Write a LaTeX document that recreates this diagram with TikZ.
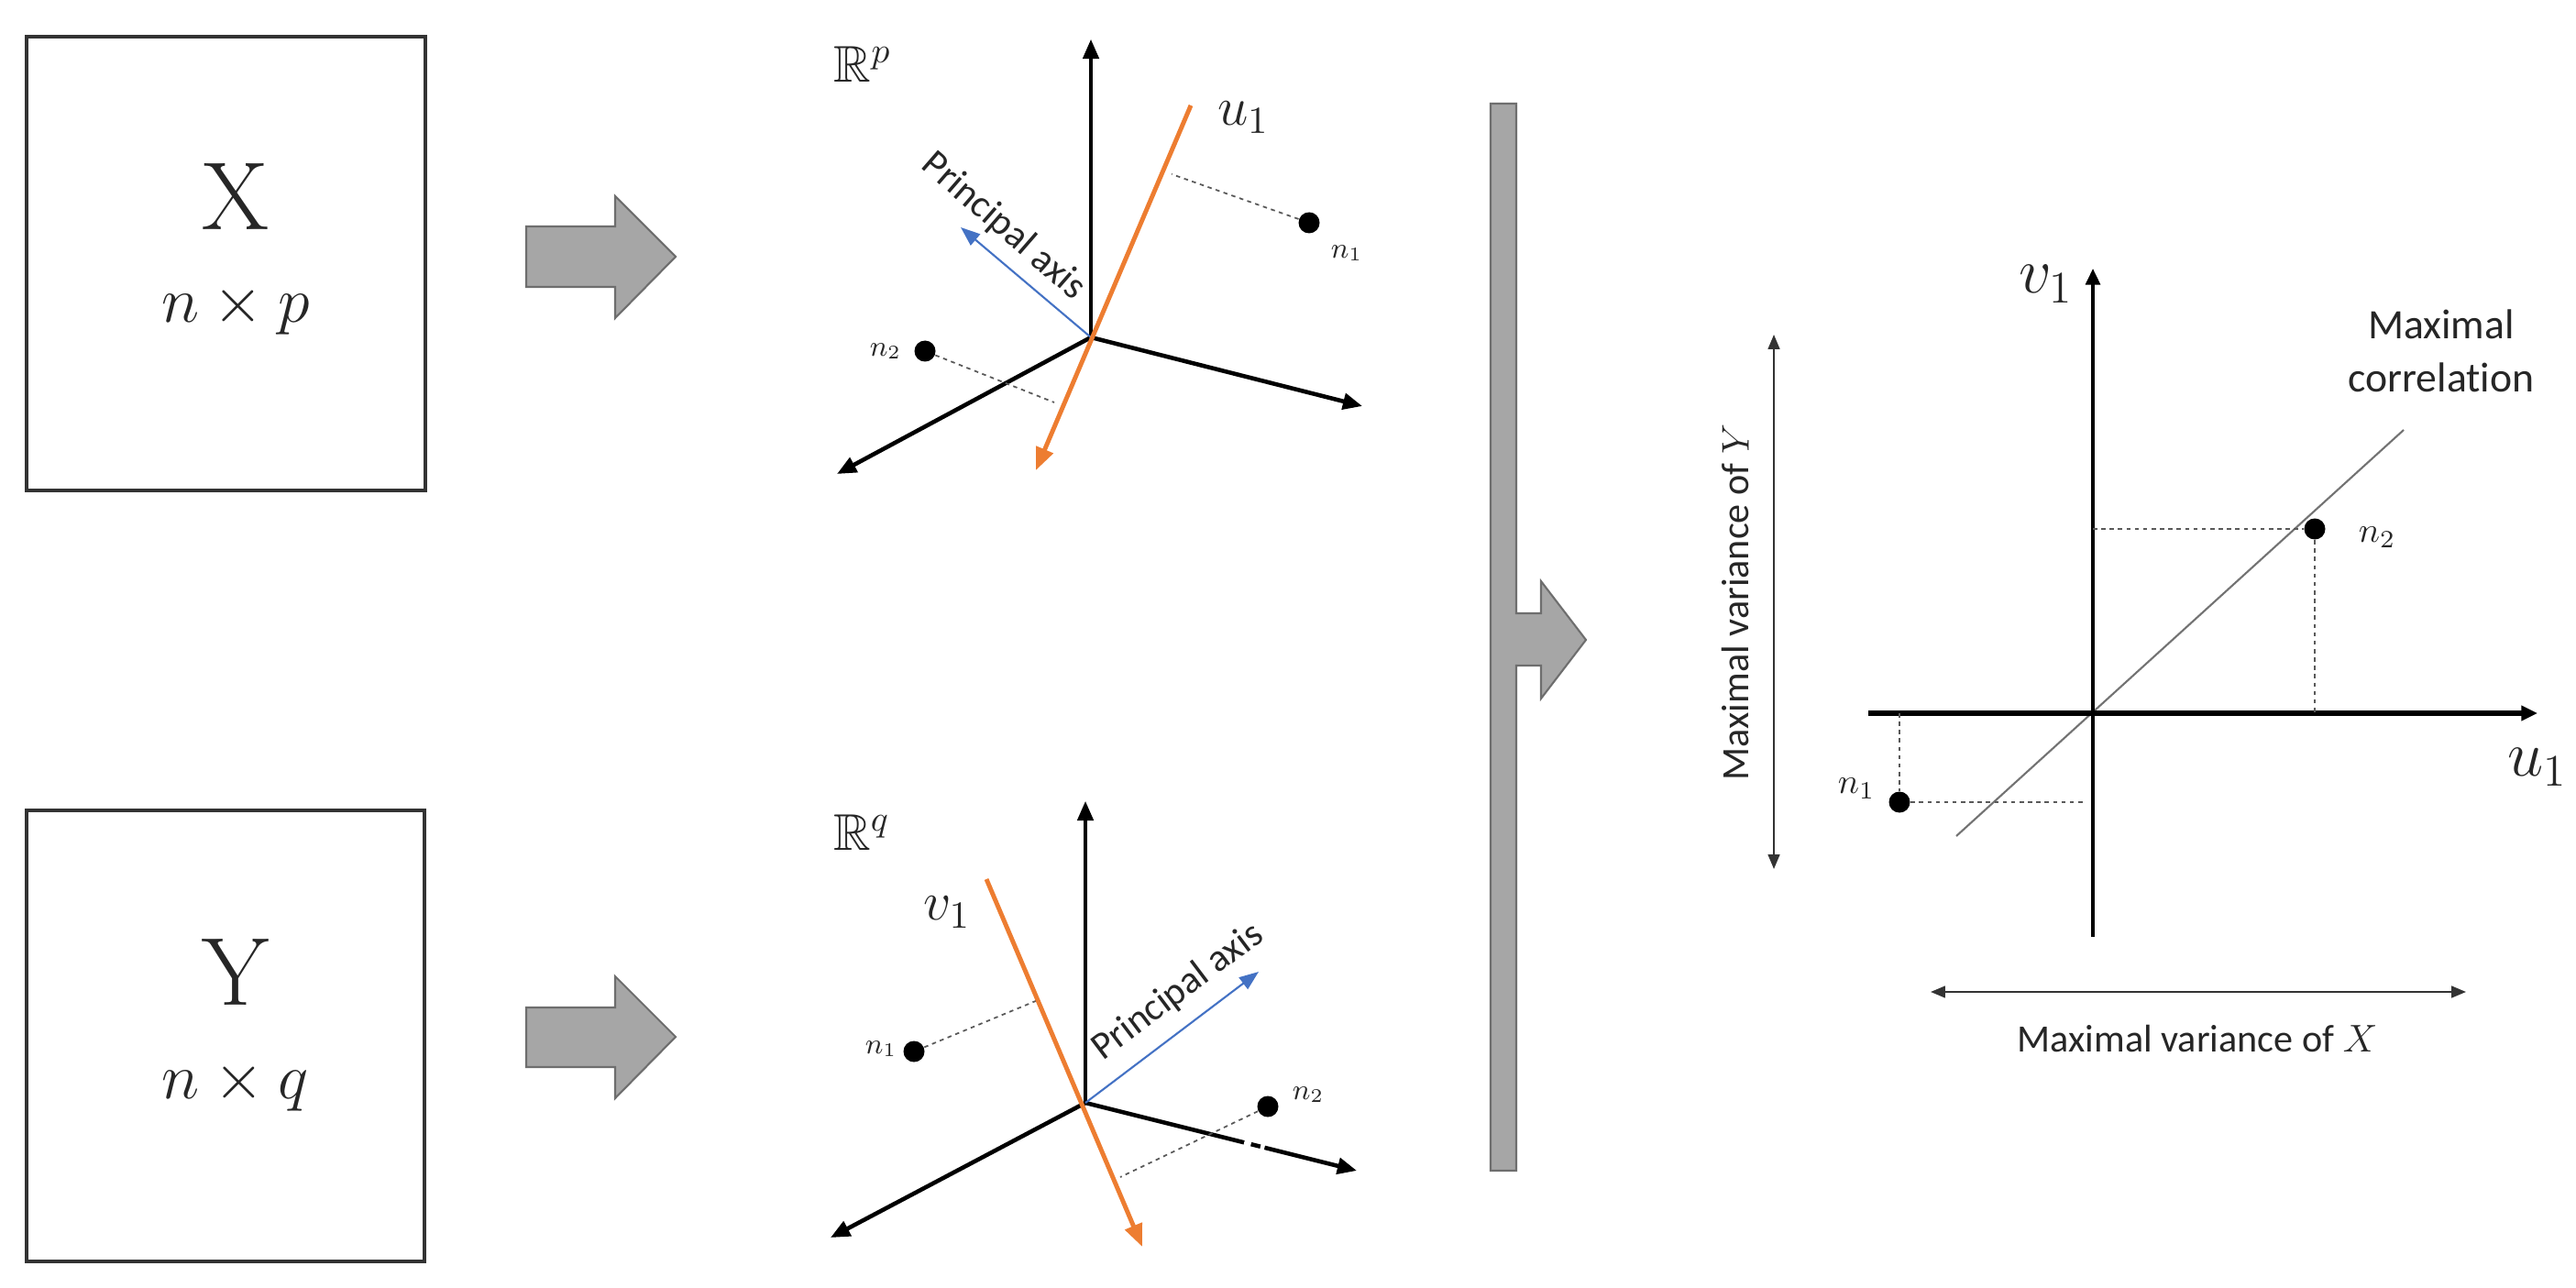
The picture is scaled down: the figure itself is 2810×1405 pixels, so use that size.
\documentclass[tikz,border=0pt]{standalone}
\usepackage{fix-cm}
\usepackage{amsmath,amssymb}
\usepackage{fontspec}
\newfontfamily\carlito[Ligatures={NoCommon,NoRare,NoContextual}]{Carlito}
\usetikzlibrary{arrows.meta,calc}
\definecolor{uorange}{HTML}{ED7D31}
\definecolor{pblue}{HTML}{4472C4}
\definecolor{bafill}{HTML}{A6A6A6}
\definecolor{badraw}{HTML}{6E6E6E}
\definecolor{dgray}{HTML}{595959}
\definecolor{txt}{HTML}{262626}
\tikzset{
  boxframe/.style={draw=black!80,line width=0.9pt,inner sep=0pt},
  bigarrow/.style={fill=bafill,draw=badraw,line width=0.6pt,line join=miter},
  axthick/.style={draw=black,line width=1.3pt,-{Triangle[length=6pt,width=5pt]}},
  axthin/.style={draw=black,line width=0.9pt,-{Triangle[length=6pt,width=5pt]}},
  orangeax/.style={draw=uorange,line width=1.4pt,-{Triangle[length=7pt,width=5.5pt]}},
  pcaarrow/.style={draw=pblue,line width=0.6pt,-{Triangle[length=6pt,width=4.5pt]}},
  projline/.style={draw=dgray,line width=0.5pt,dash pattern=on 1.3pt off 1.3pt},
  ptdot/.style={circle,fill=black,inner sep=0pt,minimum size=2.3mm},
  lbl/.style={inner sep=0pt,text=txt},
  sanslbl/.style={inner sep=0pt,text=txt,font=\carlito\fontsize{12}{14.5}\selectfont},
  corrline/.style={draw=black!55,line width=0.6pt},
  ruax/.style={draw=black,line width=1.6pt,-{Triangle[length=5pt,width=4.5pt]}},
  rvax/.style={draw=black,line width=1pt,-{Triangle[length=5pt,width=4.5pt]}},
  spanarrow/.style={draw=black!80,line width=0.6pt,{Triangle[length=4.5pt,width=3.6pt]}-{Triangle[length=4.5pt,width=3.6pt]}},
}
\begin{document}
\begin{tikzpicture}[x=0.1mm,y=-0.1mm]
\path[use as bounding box] (0,0) rectangle (2810,1405);

% ---------- data boxes ----------
\node[boxframe,minimum width=43.5mm,minimum height=49.5mm] (Xbox) at (246.5,287.5) {};
\node[lbl,anchor=base,font=\fontsize{30}{36}\selectfont] (Xlet) at (257,251) {X};
\node[lbl,anchor=base,font=\fontsize{20}{24}\selectfont] (Xdim) at (257,352) {$n\times p$};
\node[boxframe,minimum width=43.4mm,minimum height=49.2mm] (Ybox) at (246,1130) {};
\node[lbl,anchor=base,font=\fontsize{30}{36}\selectfont] (Ylet) at (257,1096) {Y};
\node[lbl,anchor=base,font=\fontsize{20}{24}\selectfont] (Ydim) at (257,1198) {$n\times q$};

% ---------- block arrows ----------
\draw[bigarrow] (574,247) -- (671,247) -- (671,214) -- (737,280) -- (671,347) -- (671,313) -- (574,313) -- cycle;
\draw[bigarrow] (574,1099) -- (671,1099) -- (671,1065) -- (737,1131) -- (671,1198) -- (671,1164) -- (574,1164) -- cycle;

% ---------- top 3D space ----------
\coordinate (tO) at (1190,368);
\coordinate (tZ) at (1190,43);
\coordinate (tX) at (1486,443);
\coordinate (tY) at (913,517);
\coordinate (tUa) at (1299,115);
\coordinate (tUb) at (1130,513);
\coordinate (tP) at (1048,248);
\coordinate (tn1p) at (1278,190);
\coordinate (tn2p) at (1150,439);
\draw[axthin] (tO) -- (tZ);
\draw[axthick] (tO) -- (tX);
\draw[axthick] (tO) -- (tY);
\node[ptdot] (tn1) at (1428,243) {};
\node[ptdot] (tn2) at (1009,383) {};
\draw[projline] (tn1) -- (tn1p);
\draw[projline] (tn2) -- (tn2p);
\draw[pcaarrow] (tO) -- (tP);
\draw[orangeax] (tUa) -- (tUb);
\node[sanslbl,rotate=-41] (tPlab) at (1095,247) {Principal axis};
\node[lbl,font=\fontsize{16}{18}\selectfont] (tR) at (941,70) {$\mathbb{R}^p$};
\node[lbl,font=\fontsize{17}{20}\selectfont] (tUlab) at (1356,128) {$u_1$};
\node[lbl,font=\fontsize{9}{10}\selectfont] (tn1lab) at (1469,276) {$n_1$};
\node[lbl,font=\fontsize{9}{10}\selectfont] (tn2lab) at (966,383) {$n_2$};

% ---------- bottom 3D space ----------
\coordinate (bO) at (1184,1203);
\coordinate (bZ) at (1184,874);
\coordinate (bX) at (1480,1277);
\coordinate (bY) at (906,1350);
\coordinate (bVa) at (1076,959);
\coordinate (bVb) at (1246,1360);
\coordinate (bP) at (1373,1060);
\coordinate (bn1p) at (1132,1091);
\coordinate (bn2p) at (1222,1284);
\draw[axthin] (bO) -- (bZ);
\draw[axthick] (bO) -- (bX);
\draw[axthick] (bO) -- (bY);
\draw[white,line width=2pt] ($(bO)!0.585!(bX)$) -- ($(bO)!0.61!(bX)$);
\draw[white,line width=2pt] ($(bO)!0.645!(bX)$) -- ($(bO)!0.66!(bX)$);
\node[ptdot] (bn1) at (997,1147) {};
\node[ptdot] (bn2) at (1383,1207) {};
\draw[projline] (bn1) -- (bn1p);
\draw[projline] (bn2) -- (bn2p);
\draw[pcaarrow] (bO) -- (bP);
\draw[orangeax] (bVa) -- (bVb);
\node[sanslbl,rotate=37] (bPlab) at (1285,1082) {Principal axis};
\node[lbl,font=\fontsize{16}{18}\selectfont] (bR) at (940,908) {$\mathbb{R}^q$};
\node[lbl,font=\fontsize{17}{20}\selectfont] (bVlab) at (1033,995) {$v_1$};
\node[lbl,font=\fontsize{9}{10}\selectfont] (bn1lab) at (961,1144) {$n_1$};
\node[lbl,font=\fontsize{9}{10}\selectfont] (bn2lab) at (1427,1194) {$n_2$};

% ---------- merging bar arrow ----------
\draw[bigarrow] (1626,113) -- (1654,113) -- (1654,669) -- (1681,669) -- (1681,634) -- (1730,698)
  -- (1681,762) -- (1681,726) -- (1654,726) -- (1654,1277) -- (1626,1277) -- cycle;

% ---------- right: canonical plane ----------
\coordinate (rO) at (2283,778);
\coordinate (rVt) at (2283,293);
\coordinate (rVb) at (2283,1022);
\coordinate (rUl) at (2038,778);
\coordinate (rUr) at (2768,778);
\coordinate (rCa) at (2134,912);
\coordinate (rCb) at (2622,469);
\draw[corrline] (rCa) -- (rCb);
\draw[rvax] (rVb) -- (rVt);
\draw[ruax] (rUl) -- (rUr);
\node[ptdot] (rn2) at (2525,577) {};
\node[ptdot] (rn1) at (2072,875) {};
\coordinate (rn2v) at (2283,577);
\coordinate (rn2u) at (2525,778);
\coordinate (rn1u) at (2072,778);
\coordinate (rn1v) at (2272,875);
\draw[projline] (rn2v) -- (rn2);
\draw[projline] (rn2) -- (rn2u);
\draw[projline] (rn1u) -- (rn1);
\draw[projline] (rn1) -- (rn1v);
\node[lbl,font=\fontsize{20}{24}\selectfont] (rVlab) at (2232,310) {$v_1$};
\node[lbl,font=\fontsize{20}{24}\selectfont] (rUlab) at (2768,837) {$u_1$};
\node[lbl,font=\fontsize{11}{12}\selectfont] (rn2lab) at (2593,586) {$n_2$};
\node[lbl,font=\fontsize{11}{12}\selectfont] (rn1lab) at (2025,860) {$n_1$};
\node[sanslbl,font=\carlito\fontsize{13}{16.5}\selectfont,align=center] (rClab) at (2663,383) {Maximal\\correlation};
\coordinate (rYa) at (1935,948);
\coordinate (rYb) at (1935,365);
\coordinate (rXa) at (2106,1082);
\coordinate (rXb) at (2690,1082);
\draw[spanarrow] (rYa) -- (rYb);
\draw[spanarrow] (rXa) -- (rXb);
\node[sanslbl,rotate=90] (rYlab) at (1893,657) {Maximal variance of $Y$};
\node[sanslbl] (rXlab) at (2397,1133) {Maximal variance of $X$};
\end{tikzpicture}
\end{document}
